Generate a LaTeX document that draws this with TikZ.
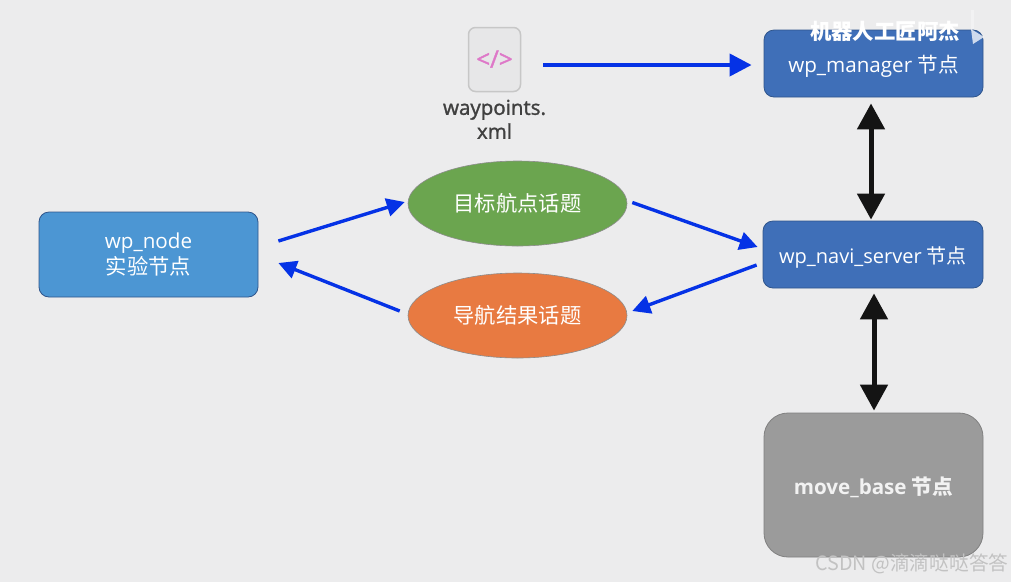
\documentclass[tikz,border=0pt]{standalone}
\usepackage{fontspec}
\setmainfont{Open Sans}
\newfontfamily\cjk{Noto Sans CJK SC}
\newfontfamily\medfont[FakeBold=1.5]{Open Sans}
\usetikzlibrary{shapes.geometric,arrows.meta,positioning,calc}
\usepackage{xcolor}
\definecolor{bggray}{RGB}{236,236,237}
\definecolor{lightblue}{RGB}{76,150,211}
\definecolor{darkblue}{RGB}{63,111,184}
\definecolor{edgeblue}{RGB}{47,85,140}
\definecolor{softgreen}{RGB}{107,165,79}
\definecolor{softorange}{RGB}{232,122,65}
\definecolor{basegray}{RGB}{155,155,155}
\definecolor{arrowblue}{RGB}{5,50,230}
\definecolor{iconpink}{RGB}{222,120,200}
\newcommand{\lowtext}[1]{\raisebox{-2.5pt}[\height][\depth]{#1}}

\begin{document}
\begin{tikzpicture}[
    x=1pt, y=-1pt,
    box/.style={rectangle, draw=edgeblue, line width=0.8pt, rounded corners=10pt, inner sep=0pt,
                minimum width=219pt, minimum height=67pt, align=center, text=white,
                font=\fontsize{20.6}{26}\selectfont},
    topic/.style={ellipse, draw=black!45, line width=0.6pt, inner sep=0pt, minimum width=219pt,
                  minimum height=85pt, text=white, font=\fontsize{21.3}{24}\selectfont\cjk},
    flow/.style={-{Triangle[length=18pt,width=18pt]}, draw=arrowblue, line width=3.4pt},
    link/.style={{Triangle[length=26pt,width=27pt]}-{Triangle[length=26pt,width=27pt]}, draw=black!92, line width=5pt},
    wmark/.style={text=white, inner sep=0pt}
]
    \fill[bggray] (0,0) rectangle (1011,582);
    \useasboundingbox (0,0) rectangle (1011,582);

    \node[box, fill=lightblue, minimum height=85pt] (wpnode) at (148.5,254.5) {wp\_node\\{\fontsize{21.3}{26}\selectfont\cjk 实验节点}};
    \node[box, fill=darkblue] (manager) at (873.5,63.5) {\lowtext{wp\_manager {\cjk 节点}}};
    \node[box, fill=darkblue, minimum width=220pt, font=\fontsize{20}{24}\selectfont] (server) at (873,254.5) {\lowtext{wp\_navi\_server {\cjk 节点}}};
    \node[box, fill=basegray, draw=black!50, minimum height=144pt, rounded corners=24pt,
          font=\fontsize{20.6}{24}\selectfont\bfseries, text=white!95!black] (movebase) at (873.5,485) {\lowtext{move\_base {\cjk 节点}}};

    \node[topic, fill=softgreen] (goal) at (517.5,203.5) {目标航点话题};
    \node[topic, fill=softorange] (result) at (517.5,315.5) {导航结果话题};

    % file icon
    \node[rectangle, draw=black!22, line width=1.5pt, fill=black!2!bggray, rounded corners=7pt, inner sep=0pt,
          minimum width=52pt, minimum height=64pt] (xmlfile) at (494.5,59.5) {};
    \node[text=iconpink, font=\fontsize{24}{24}\selectfont\medfont] (xmlmark) at (494.5,59) {</>};
    \node[align=center, text=black!75, font=\fontsize{20.5}{24}\selectfont\medfont, below=4pt of xmlfile] (xmlname) {waypoints.\\xml};

    \draw[flow, line width=4pt, -{Triangle[length=22pt,width=22pt]}] ($(xmlfile.east |- manager.west)+(22,1.5)$) -- ([shift={(-12,1.5)}]manager.west);
    \draw[flow] ([shift={(20,-13.5)}]wpnode.east) -- ([shift={(-3,-1.5)}]goal.west);
    \draw[flow] ([shift={(5,-1)}]goal.east) -- ([shift={(-5,-7.5)}]server.west);
    \draw[flow] ([shift={(-6,10.5)}]server.west) -- ([shift={(5,-4.5)}]result.east);
    \draw[flow] ([shift={(-8,-4.5)}]result.west) -- ([shift={(20,8.5)}]wpnode.east);
    \draw[link] ([shift={(-2.5,6)}]manager.south) -- ([shift={(-2,-1)}]server.north);
    \draw[link] ([shift={(1,5)}]server.south) -- ([shift={(0.5,-2)}]movebase.north);

    % watermarks
    \node[wmark, font=\fontsize{21.4}{24}\selectfont\cjk\bfseries] (logo) at (885,31) {机器人工匠阿杰};
    \fill[white, opacity=0.75] (971,29) -- (984,37) -- (973,44) -- cycle;
    \fill[white, opacity=0.35] (971,10) -- (974,10) -- (974,29) -- (971,29) -- cycle;
    \node[wmark, text=black!24, font=\fontsize{19.7}{22}\selectfont\cjk] (csdn) at (912,564) {CSDN @滴滴哒哒答答};
\end{tikzpicture}
\end{document}
